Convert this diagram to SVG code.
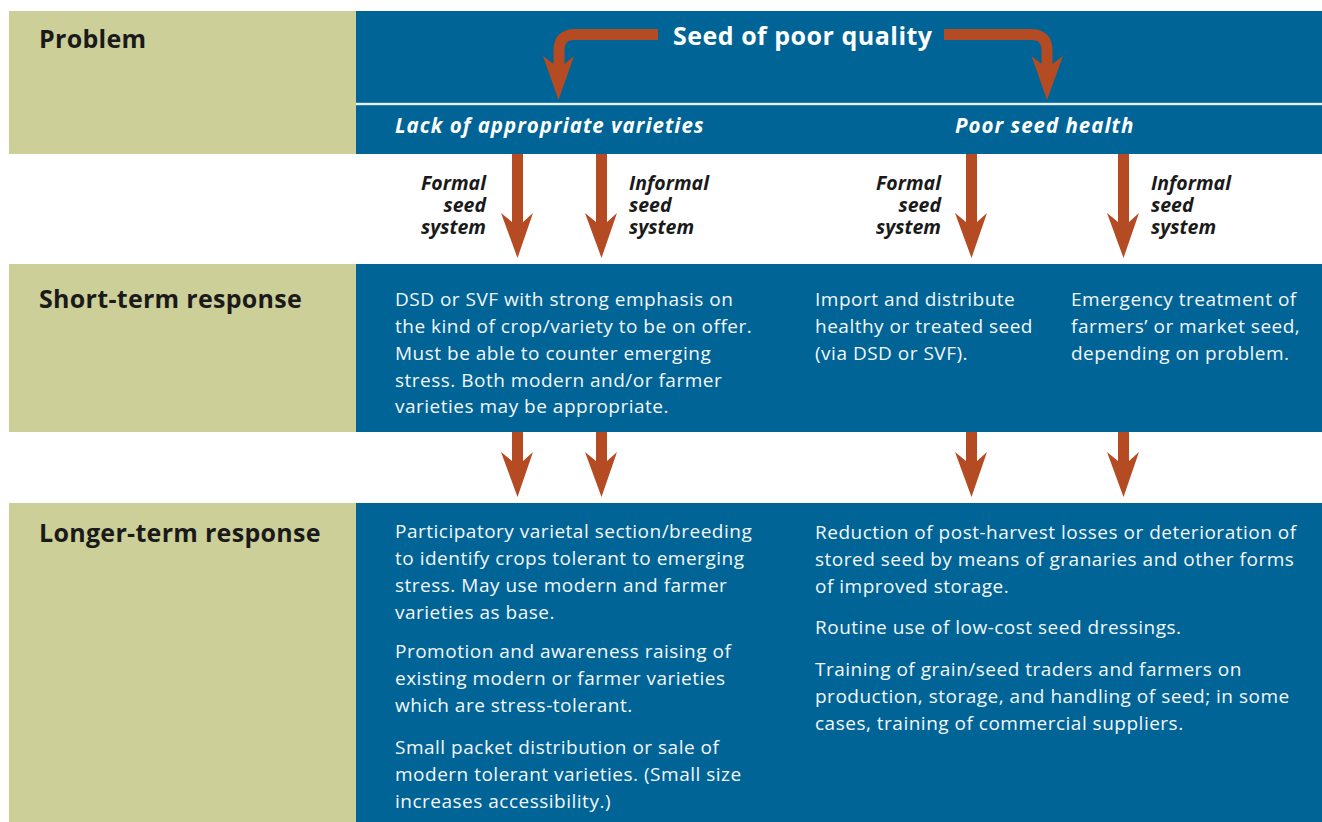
<svg xmlns="http://www.w3.org/2000/svg" width="1322" height="822" viewBox="0 0 1322 822">
<style>
.khaki{fill:#cccf98}
.blue{fill:#006496}
.lbl{font-family:"Open Sans","Liberation Sans",sans-serif;font-weight:bold;font-size:25px;letter-spacing:0.3px;fill:#1a1a1a}
.head{font-family:"Open Sans","Liberation Sans",sans-serif;font-weight:bold;font-size:25px;letter-spacing:0.5px;fill:#ffffff}
.sub{font-family:"Open Sans","Liberation Sans",sans-serif;font-weight:bold;font-style:italic;font-size:20.5px;letter-spacing:1px;fill:#ffffff}
.sys{font-family:"Open Sans","Liberation Sans",sans-serif;font-weight:bold;font-style:italic;font-size:19.5px;fill:#1a1a1a}
.body{font-family:"Open Sans","Liberation Sans",sans-serif;font-size:19px;letter-spacing:0.5px;fill:#f4f7fa}
.arr{fill:#b54b22}
.arrline{fill:none;stroke:#b54b22;stroke-width:11}
</style>
<rect width="1322" height="822" fill="#ffffff"/>

<g id="problem-row">
<rect class="khaki" x="9" y="11" width="347" height="143"/>
<rect class="blue" x="356" y="11" width="966" height="143"/>
<rect x="356" y="102.8" width="966" height="2.4" fill="#e8eef3"/>
<text class="lbl" x="39" y="48">Problem</text>
</g>

<g id="seed-poor-quality">
<text class="head" x="673" y="45">Seed of poor quality</text>
</g>
<g id="lack-varieties">
<text class="sub" x="395" y="133">Lack of appropriate varieties</text>
</g>
<g id="poor-seed-health">
<text class="sub" x="955" y="133">Poor seed health</text>
</g>

<g id="short-term-row">
<rect class="khaki" x="9" y="264" width="347" height="168"/>
<rect class="blue" x="356" y="264" width="966" height="168"/>
<text class="lbl" x="39" y="308">Short-term response</text>
</g>
<g id="short-formal-varieties">
<text class="body"><tspan x="395" y="306">DSD or SVF with strong emphasis on</tspan><tspan x="395" y="333">the kind of crop/variety to be on offer.</tspan><tspan x="395" y="360">Must be able to counter emerging</tspan><tspan x="395" y="387">stress. Both modern and/or farmer</tspan><tspan x="395" y="413">varieties may be appropriate.</tspan></text>
</g>
<g id="short-formal-health">
<text class="body"><tspan x="815" y="306">Import and distribute</tspan><tspan x="815" y="333">healthy or treated seed</tspan><tspan x="815" y="360">(via DSD or SVF).</tspan></text>
</g>
<g id="short-informal-health">
<text class="body"><tspan x="1071" y="306">Emergency treatment of</tspan><tspan x="1071" y="333">farmers’ or market seed,</tspan><tspan x="1071" y="360">depending on problem.</tspan></text>
</g>

<g id="longer-term-row">
<rect class="khaki" x="9" y="503" width="347" height="319"/>
<rect class="blue" x="356" y="503" width="966" height="319"/>
<text class="lbl" x="39" y="542">Longer-term response</text>
</g>
<g id="long-varieties">
<text class="body"><tspan x="395" y="538">Participatory varietal section/breeding</tspan><tspan x="395" y="565">to identify crops tolerant to emerging</tspan><tspan x="395" y="592">stress. May use modern and farmer</tspan><tspan x="395" y="619">varieties as base.</tspan><tspan x="395" y="658">Promotion and awareness raising of</tspan><tspan x="395" y="685">existing modern or farmer varieties</tspan><tspan x="395" y="712">which are stress-tolerant.</tspan><tspan x="395" y="754">Small packet distribution or sale of</tspan><tspan x="395" y="781">modern tolerant varieties. (Small size</tspan><tspan x="395" y="808">increases accessibility.)</tspan></text>
</g>
<g id="long-health">
<text class="body"><tspan x="815" y="539">Reduction of post-harvest losses or deterioration of</tspan><tspan x="815" y="566">stored seed by means of granaries and other forms</tspan><tspan x="815" y="593">of improved storage.</tspan><tspan x="815" y="634">Routine use of low-cost seed dressings.</tspan><tspan x="815" y="676">Training of grain/seed traders and farmers on</tspan><tspan x="815" y="703">production, storage, and handling of seed; in some</tspan><tspan x="815" y="730">cases, training of commercial suppliers.</tspan></text>
</g>

<g id="system-labels">
<text class="sys" text-anchor="end"><tspan x="486" y="190">Formal</tspan><tspan x="486" y="212">seed</tspan><tspan x="486" y="234">system</tspan></text>
<text class="sys"><tspan x="629" y="190">Informal</tspan><tspan x="629" y="212">seed</tspan><tspan x="629" y="234">system</tspan></text>
<text class="sys" text-anchor="end"><tspan x="941" y="190">Formal</tspan><tspan x="941" y="212">seed</tspan><tspan x="941" y="234">system</tspan></text>
<text class="sys"><tspan x="1151" y="190">Informal</tspan><tspan x="1151" y="212">seed</tspan><tspan x="1151" y="234">system</tspan></text>
</g>

<g id="connectors">
<path class="arrline" d="M658 34.5 H575 Q559 34.5 559 50.5 V66"/>
<path class="arr" d="M553.5 64 L543 56 L558.5 100 L574 56 L564.5 64 Z"/>
<path class="arrline" d="M944 34.5 H1031 Q1047 34.5 1047 50.5 V66"/>
<path class="arr" d="M1041.5 64 L1031.5 56 L1047 100 L1063 56 L1052.5 64 Z"/>

<path class="arr" d="M512 154 H523 V222 L533 213 L517.5 258 L501 213 L512 222 Z"/>
<path class="arr" d="M596 154 H607 V222 L617 213 L601.5 258 L585 213 L596 222 Z"/>
<path class="arr" d="M966 154 H977 V222 L987 213 L971.5 258 L955 213 L966 222 Z"/>
<path class="arr" d="M1118 154 H1129 V222 L1139 213 L1123.5 258 L1107 213 L1118 222 Z"/>

<path class="arr" d="M512 432 H523 V461 L533 452 L517.5 497 L501 452 L512 461 Z"/>
<path class="arr" d="M596 432 H607 V461 L617 452 L601.5 497 L585 452 L596 461 Z"/>
<path class="arr" d="M966 432 H977 V461 L987 452 L971.5 497 L955 452 L966 461 Z"/>
<path class="arr" d="M1118 432 H1129 V461 L1139 452 L1123.5 497 L1107 452 L1118 461 Z"/>
</g>
</svg>
